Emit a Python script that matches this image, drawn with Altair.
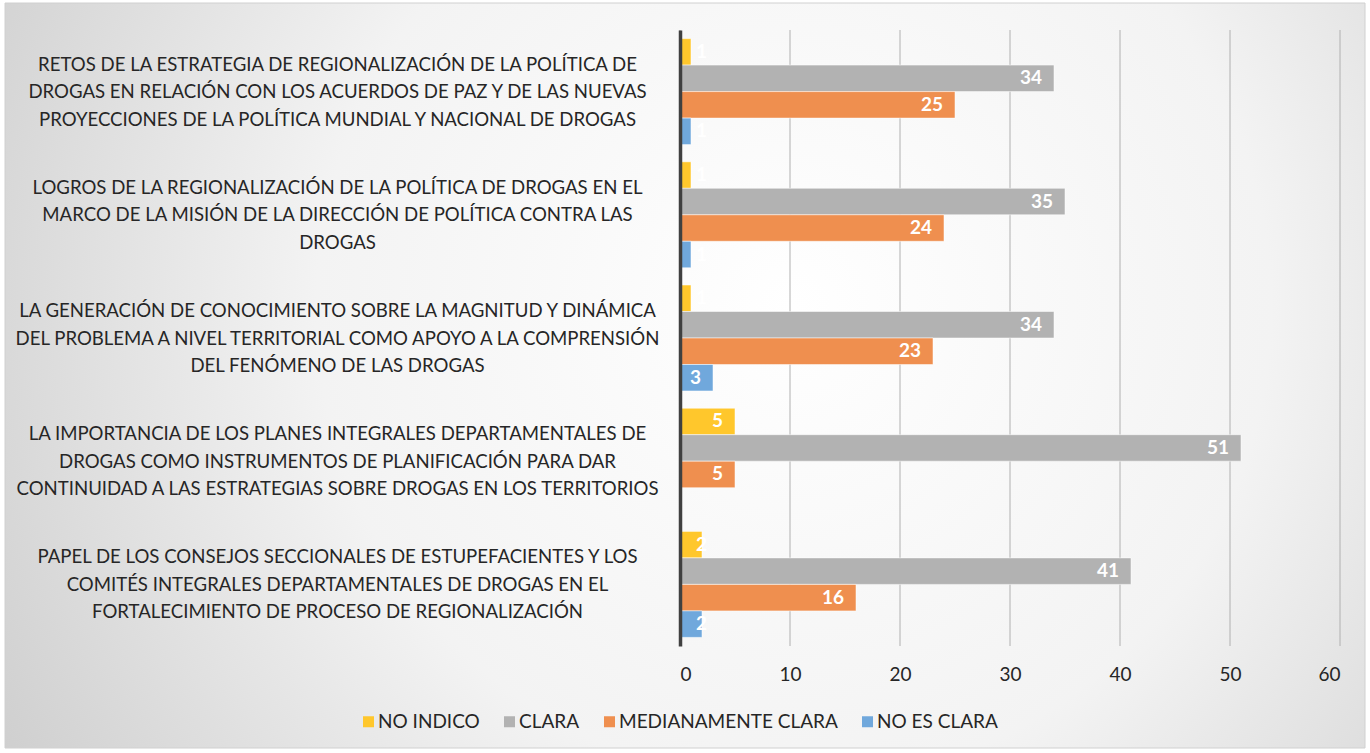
import altair as alt
import pandas as pd

categories = [
    "RETOS DE LA ESTRATEGIA DE REGIONALIZACIÓN DE LA POLÍTICA DE|DROGAS EN RELACIÓN CON LOS ACUERDOS DE PAZ Y DE LAS NUEVAS|PROYECCIONES DE LA POLÍTICA MUNDIAL Y NACIONAL DE DROGAS",
    "LOGROS DE LA REGIONALIZACIÓN DE LA POLÍTICA DE DROGAS EN EL|MARCO DE LA MISIÓN DE LA DIRECCIÓN DE POLÍTICA CONTRA LAS|DROGAS",
    "LA GENERACIÓN DE CONOCIMIENTO SOBRE LA MAGNITUD Y DINÁMICA|DEL PROBLEMA A NIVEL TERRITORIAL COMO APOYO A LA COMPRENSIÓN|DEL FENÓMENO DE LAS DROGAS",
    "LA IMPORTANCIA DE LOS PLANES INTEGRALES DEPARTAMENTALES DE|DROGAS COMO INSTRUMENTOS DE PLANIFICACIÓN PARA DAR|CONTINUIDAD A LAS ESTRATEGIAS SOBRE DROGAS EN LOS TERRITORIOS",
    "PAPEL DE LOS CONSEJOS SECCIONALES DE ESTUPEFACIENTES Y LOS|COMITÉS INTEGRALES DEPARTAMENTALES DE DROGAS EN EL|FORTALECIMIENTO DE PROCESO DE REGIONALIZACIÓN",
]
series = ["NO INDICO", "CLARA", "MEDIANAMENTE CLARA", "NO ES CLARA"]
colors = ["#FFC72C", "#B2B2B2", "#EF8F4F", "#70A8DC"]

no_indico = [1, 1, 1, 5, 2]
clara = [34, 35, 34, 51, 41]
medianamente_clara = [25, 24, 23, 5, 16]
no_es_clara = [1, 1, 3, 0, 2]

x_ticks = [0, 10, 20, 30, 40, 50, 60]

rows = []
for s, vals in zip(series, [no_indico, clara, medianamente_clara, no_es_clara]):
    for c, v in zip(categories, vals):
        rows.append({"cat": c, "series": s, "value": v})
df = pd.DataFrame(rows)
grid_df = pd.DataFrame({"t": x_ticks})

W, H = 660, 616

x_scale = alt.Scale(domain=[0, 60], nice=False)
y_enc = alt.Y(
    "cat:N",
    sort=categories,
    scale=alt.Scale(paddingInner=0.14, paddingOuter=0.07),
    axis=alt.Axis(
        title=None,
        labelExpr="split(datum.label, '|')",
        labelAlign="center",
        labelBaseline="middle",
        labelPadding=343,
        labelOffset=-27,
        labelLimit=0,
        labelFontSize=18.6,
        labelLineHeight=27.5,
        labelColor="#262626",
        ticks=False,
        tickSize=0,
        domain=True,
        domainColor="#404040",
        domainWidth=3.5,
        grid=False,
        zindex=2,
    ),
)
yoff = alt.YOffset(
    "series:N",
    sort=series,
    scale=alt.Scale(domain=series, paddingInner=0, paddingOuter=0),
)

background = alt.Chart(alt.Data(values=[{"a": 1}])).mark_rect(
    fill={
        "gradient": "radial",
        "x1": 0.58, "y1": 0.45, "r1": 0,
        "x2": 0.58, "y2": 0.45, "r2": 0.78,
        "stops": [
            {"offset": 0, "color": "#ffffff"},
            {"offset": 0.45, "color": "#f3f3f3"},
            {"offset": 1, "color": "#c2c2c2"},
        ],
    },
    stroke="#d0d0d0",
    strokeWidth=1,
).encode(
    x=alt.value(-675), x2=alt.value(685), y=alt.value(-27), y2=alt.value(718)
)

grid = alt.Chart(grid_df).mark_rule(color="#b0b0b0", strokeWidth=1).encode(
    x=alt.X("t:Q", scale=x_scale),
    y=alt.value(0),
    y2=alt.value(H),
)

bars = alt.Chart(df).transform_filter("datum.value > 0").mark_bar(
    stroke="#ffffff", strokeOpacity=0.5, strokeWidth=1
).encode(
    x=alt.X(
        "value:Q",
        scale=x_scale,
        axis=alt.Axis(
            title=None,
            values=x_ticks,
            grid=False,
            domain=False,
            ticks=False,
            labelFontSize=19,
            labelColor="#262626",
            labelPadding=19,
            zindex=2,
        ),
    ),
    y=y_enc,
    yOffset=yoff,
    color=alt.Color(
        "series:N",
        sort=series,
        scale=alt.Scale(domain=series, range=colors),
        legend=alt.Legend(
            title=None,
            orient="none",
            direction="horizontal",
            legendX=-321,
            legendY=682,
            symbolType="square",
            symbolSize=121,
            symbolStrokeWidth=0,
            labelFontSize=19,
            labelLimit=400,
            labelColor="#262626",
            columnPadding=20,
            labelOffset=0,
            padding=0,
            zindex=2,
        ),
    ),
)

labels_big = alt.Chart(df).transform_filter("datum.value >= 3").mark_text(
    align="right", baseline="middle", dx=-12, color="white",
    fontWeight="bold", fontSize=19,
).encode(
    x=alt.X("value:Q", scale=x_scale),
    y=alt.Y("cat:N", sort=categories),
    yOffset=yoff,
    text=alt.Text("value:Q"),
)

labels_small = alt.Chart(df).transform_filter(
    "datum.value > 0 && datum.value < 3"
).transform_calculate(lx="max(datum.value, 2)").mark_text(
    align="left", baseline="middle", dx=-6, color="white",
    fontWeight="bold", fontSize=19,
).encode(
    x=alt.X("lx:Q", scale=x_scale),
    y=alt.Y("cat:N", sort=categories),
    yOffset=yoff,
    text=alt.Text("value:Q"),
)

chart = alt.layer(background, grid, bars, labels_big, labels_small).properties(
    width=W,
    height=H,
    autosize=alt.AutoSizeParams(type="none"),
    padding={"left": 680, "top": 30, "right": 30, "bottom": 107},
).configure(
    font="Lato",
).configure_view(
    stroke=None,
)

chart.save("out.html", embed_options={"renderer": "svg", "actions": False})
